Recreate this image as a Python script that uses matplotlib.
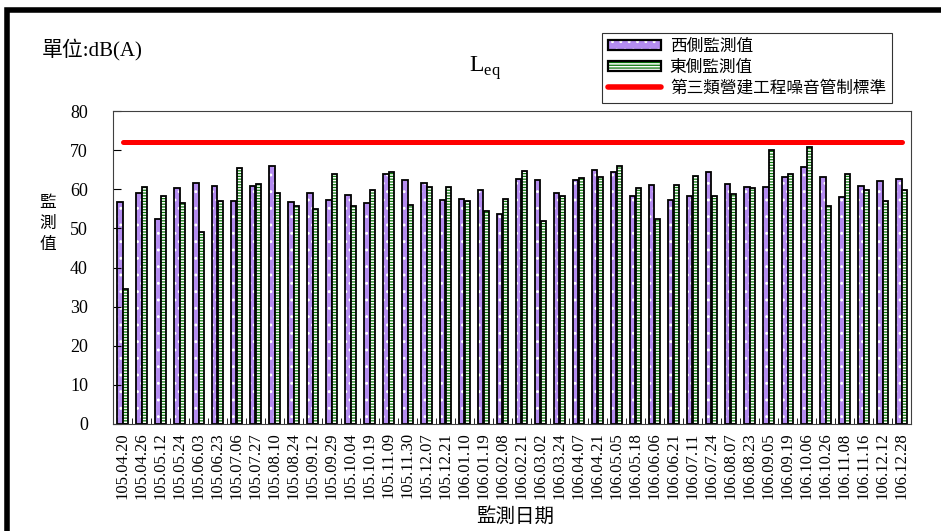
import matplotlib
matplotlib.use('Agg')
import matplotlib.pyplot as plt
from matplotlib.patches import Patch, Rectangle
from matplotlib.lines import Line2D
from matplotlib.legend_handler import HandlerTuple
import numpy as np

dates = ['105.04.20', '105.04.26', '105.05.12', '105.05.24', '105.06.03', '105.06.23',
         '105.07.06', '105.07.27', '105.08.10', '105.08.24', '105.09.12', '105.09.29',
         '105.10.04', '105.10.19', '105.11.09', '105.11.30', '105.12.07', '105.12.21',
         '106.01.10', '106.01.19', '106.02.08', '106.02.21', '106.03.02', '106.03.24',
         '106.04.07', '106.04.21', '106.05.05', '106.05.18', '106.06.06', '106.06.21',
         '106.07.11', '106.07.24', '106.08.07', '106.08.23', '106.09.05', '106.09.19',
         '106.10.06', '106.10.26', '106.11.08', '106.11.16', '106.12.12', '106.12.28']
west = [56.8, 59.0, 52.5, 60.3, 61.6, 60.9, 57.1, 60.9, 66.0, 56.8, 59.0, 57.3,
        58.5, 56.6, 63.9, 62.3, 61.5, 57.3, 57.5, 59.9, 53.8, 62.6, 62.3, 59.1,
        62.3, 64.9, 64.4, 58.3, 61.1, 57.3, 58.3, 64.3, 61.4, 60.5, 60.5, 63.2,
        65.6, 63.1, 58.1, 60.8, 62.1, 62.6]
east = [34.6, 60.7, 58.3, 56.4, 49.1, 57.0, 65.5, 61.4, 59.0, 55.7, 54.9, 63.8,
        55.7, 59.7, 64.4, 56.1, 60.5, 60.7, 57.0, 54.4, 57.4, 64.7, 52.0, 58.3,
        62.8, 63.1, 65.9, 60.3, 52.3, 61.2, 63.4, 58.3, 58.7, 60.3, 70.1, 63.9,
        70.9, 55.7, 63.8, 59.9, 57.0, 59.9]
standard = 72
series_labels = ['西側監測值', '東側監測值', '第三類營建工程噪音管制標準']

plt.rcParams['font.family'] = ['Liberation Serif', 'Noto Sans CJK TC']
plt.rcParams['mathtext.fontset'] = 'custom'
plt.rcParams['mathtext.rm'] = 'Liberation Serif'
plt.rcParams['hatch.linewidth'] = 0.9

W, H = 941, 531
fig = plt.figure(figsize=(W / 100, H / 100), dpi=100)
ax = fig.add_axes([113 / W, 1 - 424 / H, 798 / W, 313 / H])

x = np.arange(len(dates))
w = 0.31
purple = '#B48CF0'
green = '#0A780A'

ax.bar(x - w / 2, west, w, color=purple, edgecolor='white', hatch='..', linewidth=0)
ax.bar(x - w / 2, west, w, fill=False, edgecolor='black', linewidth=1.3)
ax.bar(x + w / 2, east, w, color='white', edgecolor=green, hatch='------', linewidth=0)
ax.bar(x + w / 2, east, w, fill=False, edgecolor='black', linewidth=1.3)
ax.plot(x, [standard] * len(x), color='red', lw=3.6, solid_capstyle='round')

ax.set_xlim(-0.5, len(dates) - 0.5)
ax.set_ylim(0, 80)
ax.set_yticks(range(0, 81, 10))
ax.tick_params(axis='y', direction='in', length=6, pad=18, labelsize=13)
ax.set_xticks(x)
ax.set_xticklabels(dates, rotation=90, fontsize=12)
ax.tick_params(axis='x', which='major', length=0, pad=6)
ax.set_xticks(np.arange(-0.5, len(dates), 1), minor=True)
ax.tick_params(axis='x', which='minor', direction='in', length=4)
for s in ax.spines.values():
    s.set_color('#404040')
    s.set_linewidth(0.8)

fig.text(42 / W, 1 - 50 / H, '單位:dB(A)', fontsize=15, va='center', ha='left')
fig.text(485 / W, 1 - 68 / H, r'$\mathrm{L}_{\mathrm{eq}}$', fontsize=17, ha='center', va='center')
fig.text(48 / W, 1 - 224 / H, '監\n測\n值', fontsize=12, ha='center', va='center', linespacing=1.45)
fig.text(515 / W, 1 - 516 / H, '監測日期', fontsize=14, ha='center', va='center')

h1 = (Patch(facecolor=purple, edgecolor='white', hatch='..', linewidth=0),
      Patch(fill=False, edgecolor='black', linewidth=1.6))
h2 = (Patch(facecolor='white', edgecolor=green, hatch='------', linewidth=0),
      Patch(fill=False, edgecolor='black', linewidth=1.6))
h3 = Line2D([], [], color='red', lw=4, solid_capstyle='round')
leg = fig.legend([h1, h2, h3], series_labels, loc='upper center',
                 bbox_to_anchor=(747 / W, 1 - 33 / H),
                 handler_map={tuple: HandlerTuple(ndivide=1, pad=0)},
                 fontsize=12, frameon=True, fancybox=False, edgecolor='black',
                 handlelength=3.2, handleheight=0.55, labelspacing=0.3,
                 borderpad=0.35, handletextpad=0.5, borderaxespad=0)
leg.get_frame().set_linewidth(0.8)

fig.add_artist(Rectangle((7 / W, -0.2), 1.5, 1 - 10 / H + 0.2, transform=fig.transFigure,
                         fill=False, edgecolor='black', linewidth=4))

fig.savefig('out.png', dpi=100)
